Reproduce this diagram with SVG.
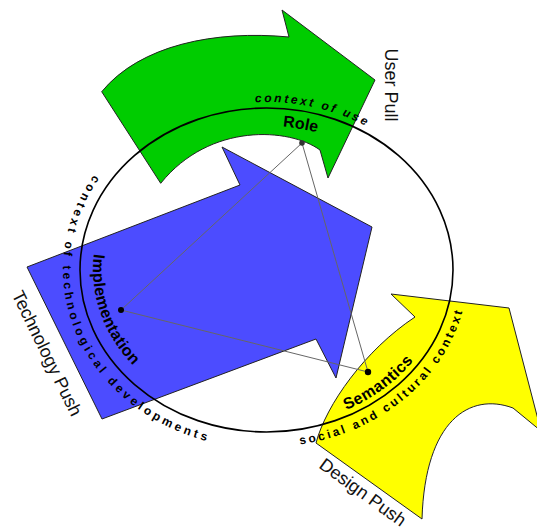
<svg xmlns="http://www.w3.org/2000/svg" width="537" height="527" viewBox="0 0 537 527">
  <style>
    .arrow { stroke: #222; stroke-width: 1; stroke-linejoin: miter; }
    .label { font-family: "Liberation Sans", Arial, sans-serif; font-size: 18px; fill: #111; }
    .ctx { font-family: "Liberation Sans", Arial, sans-serif; font-size: 12px; font-weight: bold; fill: #000; }
    .name { font-family: "Liberation Sans", Arial, sans-serif; font-size: 16px; font-weight: bold; fill: #000; }
    .link { stroke: #666; stroke-width: 1; fill: none; }
  </style>
  <defs>
    <path id="pUse" d="M255.1,102.3 A192.5,168 0 0 1 433.2,186"/>
    <path id="pRole" d="M282.8,126.7 A170.5,144 0 0 1 414.2,198"/>
    <path id="pTech" d="M94.1,174.9 A203.5,179 0 0 0 301.8,446.3"/>
    <path id="pImpl" d="M94.0,253.9 A173.5,149 0 0 0 207.2,410"/>
    <path id="pSoc" d="M300.1,444.5 A201.5,177 0 0 0 465,239.3"/>
    <path id="pSem" d="M346.2,410 A180.5,156 0 0 0 444.3,297.1"/>
  </defs>
  <rect width="537" height="527" fill="#fff"/>

  <g id="user-pull">
    <path class="arrow" fill="#00cc00" d="M101.7,91.7 C140,45 215,30 289,37 L282,10 L375,80 L328,178 L320,150 C290,128 210,122 160.7,183.3 Z"/>
    <text class="label" transform="translate(385,85) rotate(90)" text-anchor="middle">User Pull</text>
  </g>
  <g id="technology-push">
    <path class="arrow" fill="#4c4cff" d="M27,267 L240,185 L222,147 L372,227 L336,378 L316,339 L102,419 Z"/>
    <text class="label" transform="translate(41.5,356) rotate(64)" text-anchor="middle">Technology Push</text>
  </g>
  <g id="design-push">
    <path class="arrow" fill="#ffff00" d="M316,443 C326,405 365,350 415,317 L391,294 L509,308 L541,431 L513,408 C470,392 425,420 422,519 Z"/>
    <text class="label" transform="translate(359.2,497.2) rotate(36)" text-anchor="middle">Design Push</text>
  </g>

  <g id="context-circle">
    <ellipse cx="266.5" cy="270" rx="186.5" ry="162" fill="none" stroke="#000" stroke-width="1.6"/>
    <text class="ctx" font-style="italic" font-size="11.5" letter-spacing="2.5"><textPath href="#pUse">context of use</textPath></text>
    <text class="ctx" letter-spacing="3.3"><textPath href="#pTech">context of technological developments</textPath></text>
    <text class="ctx" letter-spacing="2.7"><textPath href="#pSoc">social and cultural context</textPath></text>
  </g>

  <g id="connectors">
    <line class="link" x1="302" y1="143" x2="121" y2="310"/>
    <line class="link" x1="302" y1="143" x2="368" y2="372"/>
    <line class="link" x1="121" y1="310" x2="368" y2="372"/>
  </g>

  <g id="role">
    <circle cx="302" cy="143" r="2.8" fill="#333"/>
    <text class="name"><textPath href="#pRole">Role</textPath></text>
  </g>
  <g id="implementation">
    <circle cx="121" cy="310" r="3" fill="#000"/>
    <text class="name" letter-spacing="0.3"><textPath href="#pImpl">Implementation</textPath></text>
  </g>
  <g id="semantics">
    <circle cx="368" cy="372" r="3.2" fill="#000"/>
    <text class="name" letter-spacing="0.5"><textPath href="#pSem">Semantics</textPath></text>
  </g>
</svg>
